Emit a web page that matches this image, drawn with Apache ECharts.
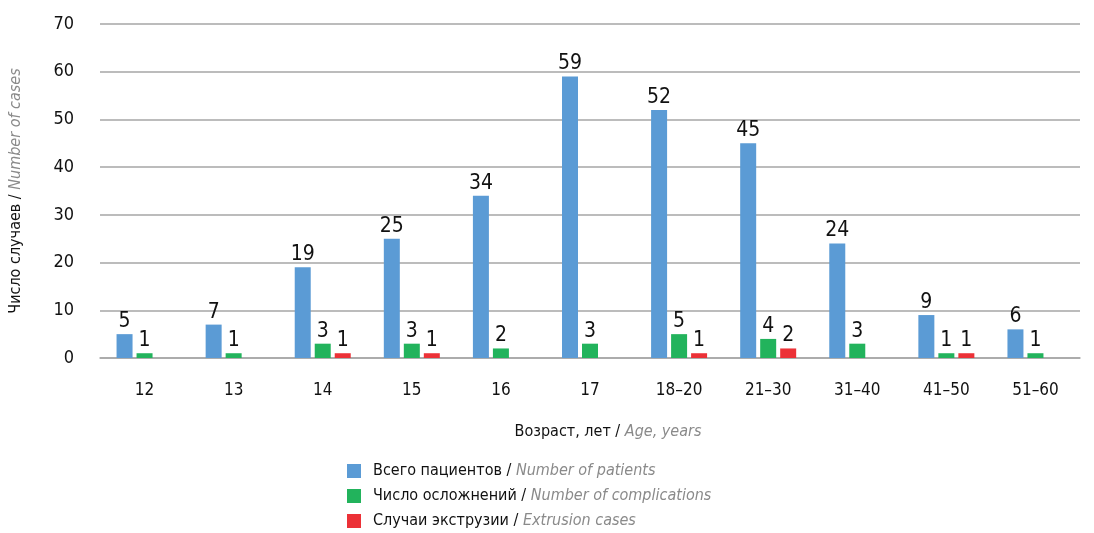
<!DOCTYPE html>
<html>
<head>
<meta charset="utf-8">
<script src="https://cdn.jsdelivr.net/npm/echarts@6/dist/echarts.min.js"></script>
<style>
  html, body { margin: 0; padding: 0; background: #fff; }
  #chart { width: 1094px; height: 533px; }
</style>
</head>
<body>
<div id="chart"></div>
<script>
// возрастные группы
var categories = ["12", "13", "14", "15", "16", "17", "18–20", "21–30", "31–40", "41–50", "51–60"];
var patients = [5, 7, 19, 25, 34, 59, 52, 45, 24, 9, 6];
var complications = [1, 1, 3, 3, 2, 3, 5, 4, 3, 1, 1];
var extrusions = [null, null, 1, 1, null, null, 1, 2, null, 1, null];
var yTicks = [0, 10, 20, 30, 40, 50, 60, 70];

var seriesNames = [
  ["Всего пациентов", "Number of patients"],
  ["Число осложнений", "Number of complications"],
  ["Случаи экструзии", "Extrusion cases"]
];

var FONT = '"DejaVu Sans Condensed", "Liberation Sans Narrow", sans-serif';

var chart = echarts.init(document.getElementById("chart"));

function barSeries(idx, data, color) {
  return {
    name: seriesNames[idx][0],
    type: "bar",
    data: data,
    barWidth: 16,
    barGap: "25%",
    itemStyle: { color: color },
    label: {
      show: true,
      position: "top",
      distance: 2,
      color: "#111",
      fontFamily: FONT,
      fontSize: 21,
      formatter: function (p) { return p.value ? p.value : ""; }
    }
  };
}

var option = {
  animation: false,
  textStyle: { fontFamily: FONT },
  grid: { left: 100, right: 14, top: 24, bottom: 175, outerBoundsMode: "none" },
  legend: {
    orient: "vertical",
    left: 342,
    top: 458,
    height: 75,
    itemWidth: 14,
    itemHeight: 14,
    itemGap: 9,
    icon: "rect",
    data: seriesNames.map(function (n) { return n[0]; }),
    formatter: function (name) {
      for (var i = 0; i < seriesNames.length; i++) {
        if (seriesNames[i][0] === name) {
          return "{a|" + name + " / }{b|" + seriesNames[i][1] + "}";
        }
      }
      return name;
    },
    textStyle: {
      rich: {
        a: { fontFamily: FONT, fontSize: 16, color: "#111", padding: [0, 0, 0, 7] },
        b: { fontFamily: FONT, fontSize: 16, color: "#8a8a8a", fontStyle: "italic" }
      }
    }
  },
  xAxis: {
    type: "category",
    data: categories,
    name: "{a|Возраст, лет / }{b|Age, years}",
    nameLocation: "middle",
    nameGap: 66,
    nameTextStyle: {
      padding: [0, 0, 0, 36],
      rich: {
        a: { fontFamily: FONT, fontSize: 16, color: "#111" },
        b: { fontFamily: FONT, fontSize: 16, color: "#8a8a8a", fontStyle: "italic" }
      }
    },
    axisLine: { lineStyle: { color: "#a6a6a6", width: 1.5 } },
    axisTick: { show: false },
    axisLabel: { color: "#111", fontSize: 17, margin: 24, fontFamily: FONT }
  },
  yAxis: {
    type: "value",
    min: yTicks[0],
    max: yTicks[yTicks.length - 1],
    interval: 10,
    name: "{a|Число случаев / }{b|Number of cases}",
    nameLocation: "middle",
    nameRotate: 90,
    nameGap: 76,
    nameTextStyle: {
      rich: {
        a: { fontFamily: FONT, fontSize: 16, color: "#111" },
        b: { fontFamily: FONT, fontSize: 16, color: "#8a8a8a", fontStyle: "italic" }
      }
    },
    axisLine: { show: false },
    axisTick: { show: false },
    axisLabel: { color: "#111", fontSize: 18, margin: 26, fontFamily: FONT },
    splitLine: { lineStyle: { color: "#a6a6a6", width: 1.5 } }
  },
  series: [
    barSeries(0, patients, "#5b9bd5"),
    barSeries(1, complications, "#22b35c"),
    barSeries(2, extrusions, "#ec3137")
  ]
};

chart.setOption(option);
</script>
</body>
</html>
